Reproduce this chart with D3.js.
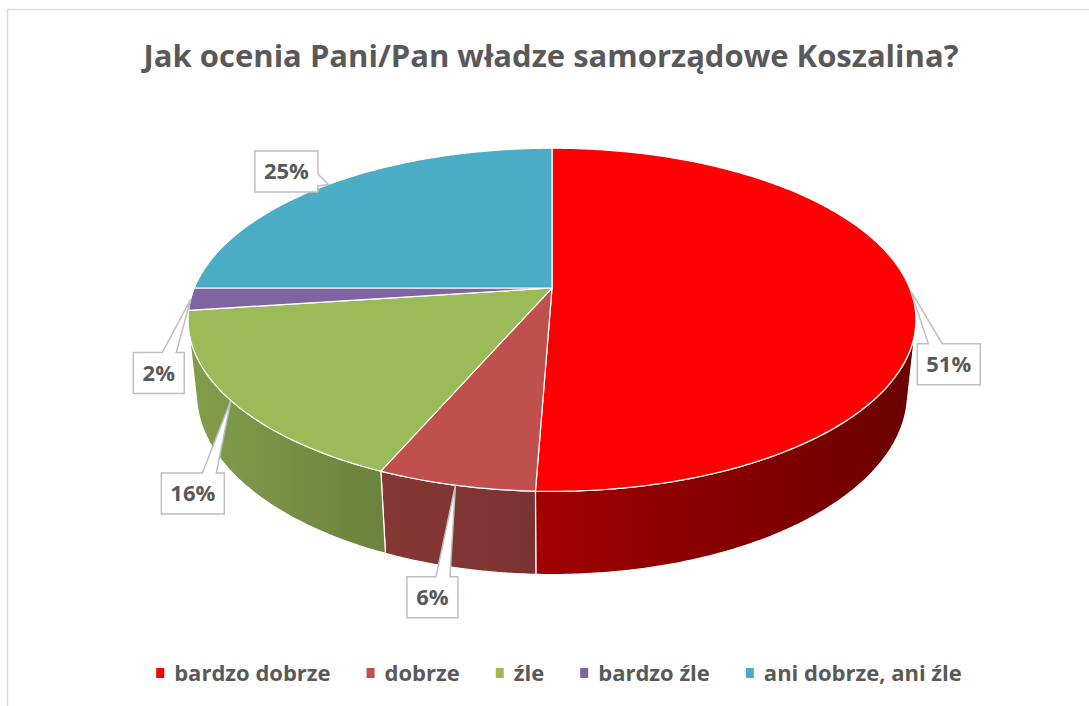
<!DOCTYPE html>
<html>
<head>
<meta charset="utf-8">
<script src="https://cdn.jsdelivr.net/npm/d3@7"></script>
<style>
  body { margin: 0; background: #fff; }
  text { font-family: "Open Sans", sans-serif; font-weight: bold; fill: #595959; }
</style>
</head>
<body>
<script>
const title = "Jak ocenia Pani/Pan władze samorządowe Koszalina?"
const categories = ["bardzo dobrze", "dobrze", "źle", "bardzo źle", "ani dobrze, ani źle"]
const values = [50.6, 5.9, 16.4, 2.1, 25.0]
const colors = ["#ff0000", "#c0504d", "#9bbb59", "#8064a2", "#4bacc6"]

// where the callout boxes sit, relative to the point they point at
const labelOffsets = [[38, 73], [-23, 112], [-38, 93], [-32, 74], [-42, -13]]

const width = 1089
const height = 706

const svg = d3.select('body').append('svg')
  .attr('width', width)
  .attr('height', height)

svg.append('rect')
  .attr('x', 7.5).attr('y', 9.5)
  .attr('width', 1200).attr('height', 800)
  .attr('fill', 'none')
  .attr('stroke', '#d9d9d9')
  .attr('stroke-width', 1.5)

svg.append('text')
  .attr('x', 551).attr('y', 67)
  .attr('text-anchor', 'middle')
  .style('font-size', '31px')
  .text(title)

// simple perspective camera looking down on a flat cylinder
const cam = { cx: 552, cy: 288, tilt: 27.6 * Math.PI / 180, dist: 1, r: 0.209, focal: 1711, h: 0.049 }

function proj(theta, y3) {
  const X = cam.r * Math.sin(theta)
  const Z = cam.r * Math.cos(theta)
  const v = Z * Math.sin(cam.tilt) + y3 * Math.cos(cam.tilt)
  const w = cam.dist + Z * Math.cos(cam.tilt) - y3 * Math.sin(cam.tilt)
  return [cam.cx + cam.focal * X / w, cam.cy - cam.focal * v / w]
}
const apex = [cam.cx, cam.cy]

const pie = d3.pie().sort(null).value(d => d).startAngle(0).endAngle(2 * Math.PI)
const arcs = pie(values)

function edge(a0, a1, y3) {
  const n = Math.max(2, Math.ceil((a1 - a0) / 0.01))
  return d3.range(n + 1).map(i => proj(a0 + (a1 - a0) * i / n, y3))
}

const line = d3.line()
const defs = svg.append('defs')
// the wall is seen only between the two tangent points of the camera
const tang = Math.acos(cam.r / (cam.dist * Math.cos(cam.tilt)))
const sideLo = Math.PI - tang
const sideHi = Math.PI + tang

function shade(c, theta) {
  const deg = theta * 180 / Math.PI
  const k = Math.max(0.36, Math.min(0.9, 0.38 + 0.5 * (deg - 90) / 180))
  const col = d3.rgb(c)
  return d3.rgb(col.r * k, col.g * k, col.b * k)
}

const sides = svg.append('g')
arcs.forEach((a, i) => {
  const a0 = Math.max(a.startAngle, sideLo)
  const a1 = Math.min(a.endAngle, sideHi)
  if (a1 <= a0) return
  const grad = defs.append('linearGradient')
    .attr('id', 'side' + i)
    .attr('gradientUnits', 'userSpaceOnUse')
    .attr('x1', proj(a1, 0)[0]).attr('x2', proj(a0, 0)[0])
    .attr('y1', 0).attr('y2', 0)
  d3.range(9).forEach(j => {
    const t = a1 + (a0 - a1) * j / 8
    grad.append('stop').attr('offset', j / 8).attr('stop-color', shade(colors[i], t))
  })
  const pts = edge(a0, a1, 0).concat(edge(a0, a1, -cam.h).reverse())
  sides.append('path')
    .attr('d', line(pts) + 'Z')
    .attr('fill', `url(#side${i})`)
    .attr('stroke', '#fff')
    .attr('stroke-width', 1.2)
    .attr('stroke-linejoin', 'round')
})

const tops = svg.append('g')
arcs.forEach((a, i) => {
  const pts = [apex].concat(edge(a.startAngle, a.endAngle, 0))
  tops.append('path')
    .attr('d', line(pts) + 'Z')
    .attr('fill', colors[i])
    .attr('stroke', '#fff')
    .attr('stroke-width', 1.2)
    .attr('stroke-linejoin', 'round')
})

// callouts
const boxH = 41
const labels = svg.append('g')
arcs.forEach((a, i) => {
  const txt = Math.round(a.data) + '%'
  const mid = (a.startAngle + a.endAngle) / 2
  const p = proj(mid, 0)
  const bx = p[0] + labelOffsets[i][0]
  const by = p[1] + labelOffsets[i][1]
  const w = txt.length > 2 ? 63 : 51
  const x0 = bx - w / 2, x1 = bx + w / 2, y0 = by - boxH / 2, y1 = by + boxH / 2
  let path
  if (p[1] < y0) {
    // pointer from the top edge
    const bc = p[0] > bx ? x1 - 15 : x0 + 18
    path = `M${x0},${y0}L${bc - 7},${y0}L${p[0]},${p[1]}L${bc + 7},${y0}L${x1},${y0}L${x1},${y1}L${x0},${y1}Z`
  } else {
    // pointer from the right edge
    path = `M${x0},${y0}L${x1},${y0}L${x1},${y1 - 18}L${p[0]},${p[1]}L${x1},${y1 - 6}L${x1},${y1}L${x0},${y1}Z`
  }
  labels.append('path')
    .attr('d', path)
    .attr('fill', '#fff')
    .attr('stroke', '#bfbfbf')
    .attr('stroke-width', 1.5)
  labels.append('text')
    .attr('x', bx).attr('y', by + 8)
    .attr('text-anchor', 'middle')
    .style('font-size', '22px')
    .text(txt)
})

// legend
const legend = svg.append('g')
let lx = 0
categories.forEach((c, i) => {
  const g = legend.append('g').attr('transform', `translate(${lx},0)`)
  g.append('rect').attr('x', 0).attr('y', -5).attr('width', 8).attr('height', 10).attr('fill', colors[i])
  const t = g.append('text').attr('x', 18).attr('y', 8).style('font-size', '22px').text(c)
  lx += 18 + t.node().getComputedTextLength() + (i < categories.length - 1 ? 36 : 0)
})
legend.attr('transform', `translate(${559 - lx / 2},673)`)
</script>
</body>
</html>
